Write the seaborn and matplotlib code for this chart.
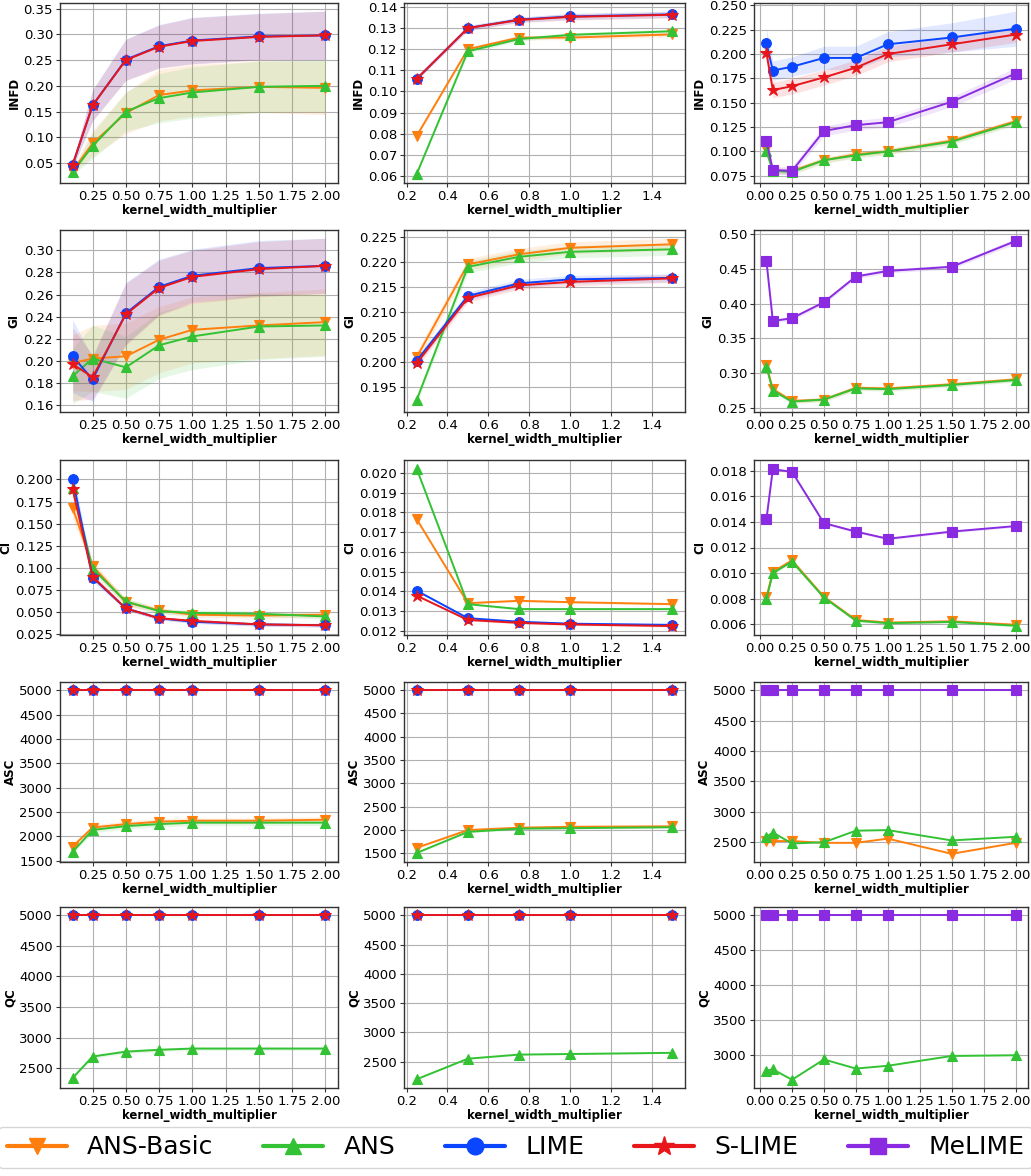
import numpy as np
import pandas as pd
import matplotlib
matplotlib.use("Agg")
import matplotlib.pyplot as plt
import seaborn as sns
from matplotlib.lines import Line2D
from matplotlib.ticker import MultipleLocator

sns.set_style("whitegrid")
plt.rcParams['font.family'] = ['DejaVu Sans']
plt.rcParams['text.color'] = 'black'
plt.rcParams['axes.labelcolor'] = 'black'
plt.rcParams['xtick.color'] = 'black'
plt.rcParams['ytick.color'] = 'black'

# ---------------- data ----------------
X1 = [0.1, 0.25, 0.5, 0.75, 1.0, 1.5, 2.0]
X2 = [0.25, 0.5, 0.75, 1.0, 1.5]
X3 = [0.05, 0.1, 0.25, 0.5, 0.75, 1.0, 1.5, 2.0]

METHODS = ["ANS-Basic", "ANS", "LIME", "S-LIME", "MeLIME"]
COLORS = {"ANS-Basic": "#ff7f0e", "ANS": "#33c233", "LIME": "#0a45ff",
          "S-LIME": "#e8161b", "MeLIME": "#8a2be2"}
MARKERS = {"ANS-Basic": "v", "ANS": "^", "LIME": "o", "S-LIME": "*", "MeLIME": "s"}

# Row 1: INFD
infd_1 = {"ANS-Basic": [0.035, 0.088, 0.147, 0.182, 0.191, 0.198, 0.196],
          "ANS": [0.032, 0.083, 0.150, 0.176, 0.187, 0.198, 0.200],
          "LIME": [0.046, 0.162, 0.251, 0.277, 0.288, 0.296, 0.298],
          "S-LIME": [0.047, 0.162, 0.250, 0.276, 0.287, 0.295, 0.298]}
infd_1_sd = {"ANS-Basic": [0.005, 0.025, 0.040, 0.050, 0.050, 0.050, 0.052],
             "ANS": [0.005, 0.025, 0.038, 0.048, 0.050, 0.050, 0.050],
             "LIME": [0.006, 0.030, 0.040, 0.042, 0.045, 0.045, 0.047],
             "S-LIME": [0.006, 0.030, 0.040, 0.042, 0.045, 0.045, 0.047]}
infd_2 = {"ANS-Basic": [0.079, 0.120, 0.1255, 0.1255, 0.127],
          "ANS": [0.061, 0.119, 0.1248, 0.1268, 0.1285],
          "LIME": [0.106, 0.130, 0.134, 0.1355, 0.1365],
          "S-LIME": [0.106, 0.130, 0.1338, 0.1353, 0.1363]}
infd_2_sd = {"ANS-Basic": [0.0005, 0.001, 0.001, 0.001, 0.001],
             "ANS": [0.0005, 0.001, 0.001, 0.001, 0.001],
             "LIME": [0.0008, 0.0012, 0.0012, 0.0015, 0.0015],
             "S-LIME": [0.0008, 0.0012, 0.0012, 0.0015, 0.0015]}
infd_3 = {"ANS-Basic": [0.103, 0.080, 0.080, 0.091, 0.097, 0.100, 0.111, 0.131],
          "ANS": [0.100, 0.080, 0.079, 0.091, 0.096, 0.100, 0.110, 0.130],
          "LIME": [0.211, 0.183, 0.187, 0.196, 0.196, 0.210, 0.217, 0.226],
          "S-LIME": [0.201, 0.163, 0.167, 0.176, 0.186, 0.200, 0.210, 0.220],
          "MeLIME": [0.111, 0.081, 0.080, 0.121, 0.127, 0.130, 0.151, 0.180]}
infd_3_sd = {"ANS-Basic": [0.003, 0.003, 0.003, 0.003, 0.003, 0.003, 0.003, 0.003],
             "ANS": [0.003, 0.003, 0.003, 0.003, 0.003, 0.003, 0.003, 0.003],
             "LIME": [0.015, 0.010, 0.010, 0.012, 0.012, 0.013, 0.015, 0.018],
             "S-LIME": [0.010, 0.008, 0.008, 0.008, 0.008, 0.008, 0.008, 0.008],
             "MeLIME": [0.005, 0.004, 0.004, 0.005, 0.005, 0.005, 0.005, 0.006]}

# Row 2: GI
gi_1 = {"ANS-Basic": [0.198, 0.202, 0.204, 0.219, 0.228, 0.232, 0.235],
        "ANS": [0.186, 0.202, 0.194, 0.214, 0.222, 0.231, 0.232],
        "LIME": [0.204, 0.183, 0.243, 0.267, 0.277, 0.284, 0.286],
        "S-LIME": [0.197, 0.185, 0.242, 0.266, 0.276, 0.283, 0.286]}
gi_1_sd = {"ANS-Basic": [0.025, 0.030, 0.030, 0.030, 0.030, 0.030, 0.030],
           "ANS": [0.025, 0.030, 0.028, 0.030, 0.030, 0.030, 0.028],
           "LIME": [0.033, 0.020, 0.028, 0.025, 0.024, 0.025, 0.025],
           "S-LIME": [0.033, 0.020, 0.028, 0.025, 0.024, 0.025, 0.025]}
gi_2 = {"ANS-Basic": [0.201, 0.2195, 0.2215, 0.2228, 0.2235],
        "ANS": [0.1925, 0.219, 0.221, 0.222, 0.2225],
        "LIME": [0.2003, 0.2132, 0.2157, 0.2165, 0.2168],
        "S-LIME": [0.1998, 0.2128, 0.2153, 0.2160, 0.2167]}
gi_2_sd = {"ANS-Basic": [0.0012, 0.0012, 0.0012, 0.0012, 0.0012],
           "ANS": [0.0008, 0.0012, 0.0012, 0.0012, 0.0012],
           "LIME": [0.0008, 0.0008, 0.0008, 0.0008, 0.0008],
           "S-LIME": [0.0008, 0.0008, 0.0008, 0.0008, 0.0008]}
gi_3 = {"ANS-Basic": [0.311, 0.277, 0.260, 0.262, 0.279, 0.278, 0.284, 0.291],
        "ANS": [0.309, 0.275, 0.259, 0.262, 0.278, 0.277, 0.283, 0.290],
        "MeLIME": [0.461, 0.375, 0.379, 0.402, 0.439, 0.447, 0.453, 0.490]}
gi_3_sd = {"ANS-Basic": [0.003, 0.003, 0.003, 0.003, 0.003, 0.003, 0.003, 0.003],
           "ANS": [0.003, 0.003, 0.003, 0.003, 0.003, 0.003, 0.003, 0.003],
           "MeLIME": [0.003, 0.003, 0.003, 0.003, 0.003, 0.003, 0.003, 0.004]}

# Row 3: CI
ci_1 = {"ANS-Basic": [0.168, 0.102, 0.061, 0.052, 0.047, 0.046, 0.047],
        "ANS": [0.190, 0.099, 0.062, 0.051, 0.049, 0.048, 0.045],
        "LIME": [0.201, 0.089, 0.054, 0.043, 0.039, 0.036, 0.035],
        "S-LIME": [0.189, 0.090, 0.054, 0.043, 0.040, 0.036, 0.035]}
ci_1_sd = {"ANS-Basic": [0.012, 0.006, 0.004, 0.003, 0.003, 0.003, 0.003],
           "ANS": [0.008, 0.005, 0.004, 0.003, 0.003, 0.003, 0.003],
           "LIME": [0.012, 0.004, 0.002, 0.002, 0.002, 0.002, 0.002],
           "S-LIME": [0.008, 0.003, 0.002, 0.002, 0.002, 0.002, 0.002]}
ci_2 = {"ANS-Basic": [0.01765, 0.01340, 0.01352, 0.01345, 0.01335],
        "ANS": [0.02020, 0.01335, 0.01310, 0.01310, 0.01310],
        "LIME": [0.01403, 0.01264, 0.01246, 0.01236, 0.01230],
        "S-LIME": [0.01378, 0.01255, 0.01240, 0.01232, 0.01224]}
ci_2_sd = {"ANS-Basic": [0.00005, 0.00005, 0.00005, 0.00005, 0.00005],
           "ANS": [0.00005, 0.00005, 0.00005, 0.00005, 0.00005],
           "LIME": [0.00005, 0.00005, 0.00005, 0.00005, 0.00005],
           "S-LIME": [0.00005, 0.00005, 0.00005, 0.00005, 0.00005]}
ci_3 = {"ANS-Basic": [0.00812, 0.01010, 0.01100, 0.00815, 0.00635, 0.00615, 0.00625, 0.00598],
        "ANS": [0.00800, 0.01000, 0.01090, 0.00810, 0.00630, 0.00610, 0.00620, 0.00590],
        "MeLIME": [0.01422, 0.01810, 0.01790, 0.01390, 0.01324, 0.01268, 0.01324, 0.01367]}
ci_3_sd = {"ANS-Basic": [0.0001] * 8, "ANS": [0.0001] * 8, "MeLIME": [0.0001] * 8}

# Row 4: ASC
asc_1 = {"ANS-Basic": [1790, 2180, 2250, 2300, 2320, 2320, 2340],
         "ANS": [1680, 2130, 2210, 2250, 2280, 2280, 2280],
         "LIME": [5000, 5000, 5000, 5000, 5000, 5000, 5000],
         "S-LIME": [5000, 5000, 5000, 5000, 5000, 5000, 5000]}
asc_1_sd = {"ANS-Basic": [40, 60, 60, 60, 60, 60, 60],
            "ANS": [40, 60, 60, 60, 60, 60, 60],
            "LIME": [0] * 7, "S-LIME": [0] * 7}
asc_2 = {"ANS-Basic": [1620, 2000, 2050, 2070, 2080],
         "ANS": [1510, 1960, 2030, 2040, 2060],
         "LIME": [5000, 5000, 5000, 5000, 5000],
         "S-LIME": [5000, 5000, 5000, 5000, 5000]}
asc_2_sd = {"ANS-Basic": [20] * 5, "ANS": [20] * 5, "LIME": [0] * 5, "S-LIME": [0] * 5}
asc_3 = {"ANS-Basic": [2520, 2520, 2520, 2490, 2490, 2560, 2310, 2490],
         "ANS": [2590, 2660, 2480, 2500, 2690, 2700, 2530, 2590],
         "MeLIME": [5000, 5000, 5000, 5000, 5000, 5000, 5000, 5000]}
asc_3_sd = {"ANS-Basic": [0] * 8, "ANS": [0] * 8, "MeLIME": [0] * 8}

# Row 5: QC
qc_1 = {"ANS": [2340, 2690, 2770, 2800, 2820, 2820, 2820],
        "LIME": [5000, 5000, 5000, 5000, 5000, 5000, 5000],
        "S-LIME": [5000, 5000, 5000, 5000, 5000, 5000, 5000]}
qc_1_sd = {"ANS": [30, 30, 30, 30, 30, 30, 30], "LIME": [0] * 7, "S-LIME": [0] * 7}
qc_2 = {"ANS": [2200, 2550, 2620, 2630, 2650],
        "LIME": [5000, 5000, 5000, 5000, 5000],
        "S-LIME": [5000, 5000, 5000, 5000, 5000]}
qc_2_sd = {"ANS": [10] * 5, "LIME": [0] * 5, "S-LIME": [0] * 5}
qc_3 = {"ANS": [2780, 2800, 2650, 2940, 2810, 2850, 2990, 3000],
        "MeLIME": [5000, 5000, 5000, 5000, 5000, 5000, 5000, 5000]}
qc_3_sd = {"ANS": [0] * 8, "MeLIME": [0] * 8}

X_STEPS = [0.25, 0.2, 0.25]
Y_STEPS = [[0.05, 0.01, 0.025],
           [0.02, 0.005, 0.05],
           [0.025, 0.001, 0.002],
           [500, 500, 500],
           [500, 500, 500]]

PANELS = [
    [("INFD", X1, infd_1, infd_1_sd), ("INFD", X2, infd_2, infd_2_sd), ("INFD", X3, infd_3, infd_3_sd)],
    [("GI", X1, gi_1, gi_1_sd), ("GI", X2, gi_2, gi_2_sd), ("GI", X3, gi_3, gi_3_sd)],
    [("CI", X1, ci_1, ci_1_sd), ("CI", X2, ci_2, ci_2_sd), ("CI", X3, ci_3, ci_3_sd)],
    [("ASC", X1, asc_1, asc_1_sd), ("ASC", X2, asc_2, asc_2_sd), ("ASC", X3, asc_3, asc_3_sd)],
    [("QC", X1, qc_1, qc_1_sd), ("QC", X2, qc_2, qc_2_sd), ("QC", X3, qc_3, qc_3_sd)],
]

# ---------------- layout ----------------
W, H = 1031, 1176
fig = plt.figure(figsize=(W / 100, H / 100), dpi=100)
COLS = [(60, 338), (404, 685), (754, 1028)]
ROWS = [(3, 183), (230, 412), (460, 635), (682, 862), (907, 1088)]

for r, row in enumerate(PANELS):
    for c, (ylabel, xs, means, sds) in enumerate(row):
        x0, x1 = COLS[c]
        y0, y1 = ROWS[r]
        ax = fig.add_axes([x0 / W, 1 - y1 / H, (x1 - x0) / W, (y1 - y0) / H])
        for m in METHODS:
            if m not in means:
                continue
            col = COLORS[m]
            mu = np.array(means[m], dtype=float)
            sd = np.array(sds[m], dtype=float)
            df = pd.DataFrame({"x": xs, "y": mu})
            ax.fill_between(xs, mu - sd, mu + sd, color=col, alpha=0.12, linewidth=0)
            sns.lineplot(data=df, x="x", y="y", ax=ax, color=col, marker=MARKERS[m],
                         markersize=9 if m == "S-LIME" else 7, markeredgecolor=col,
                         markeredgewidth=0.8, linewidth=1.4, errorbar=None)
        ax.xaxis.set_major_locator(MultipleLocator(X_STEPS[c]))
        ax.yaxis.set_major_locator(MultipleLocator(Y_STEPS[r][c]))
        ax.set_ylabel(ylabel, fontsize=8.5, fontweight="bold", labelpad=2)
        ax.set_xlabel("kernel_width_multiplier", fontsize=8.5, fontweight="bold", labelpad=1)
        ax.tick_params(axis="both", labelsize=9.5, length=3, pad=2, left=True, bottom=True, color="#333333")
        ax.grid(True, color="#b0b0b0", linewidth=0.8)
        for s in ax.spines.values():
            s.set_edgecolor("#333333")
            s.set_linewidth(1.0)
        ax.set_facecolor("white")

handles = [Line2D([0], [0], color=COLORS[m], marker=MARKERS[m], linewidth=3,
                  markersize=15 if m == "S-LIME" else 12, markeredgecolor=COLORS[m])
           for m in METHODS]
leg = fig.legend(handles, METHODS, loc="lower center", bbox_to_anchor=(0.5, -0.004),
                 ncol=5, fontsize=18, handlelength=2.4, handletextpad=0.8,
                 columnspacing=2.0, frameon=True, borderpad=0.35)
leg.get_frame().set_edgecolor("#cccccc")
for t in leg.get_texts():
    t.set_color("black")

fig.savefig("out.png", dpi=100)
